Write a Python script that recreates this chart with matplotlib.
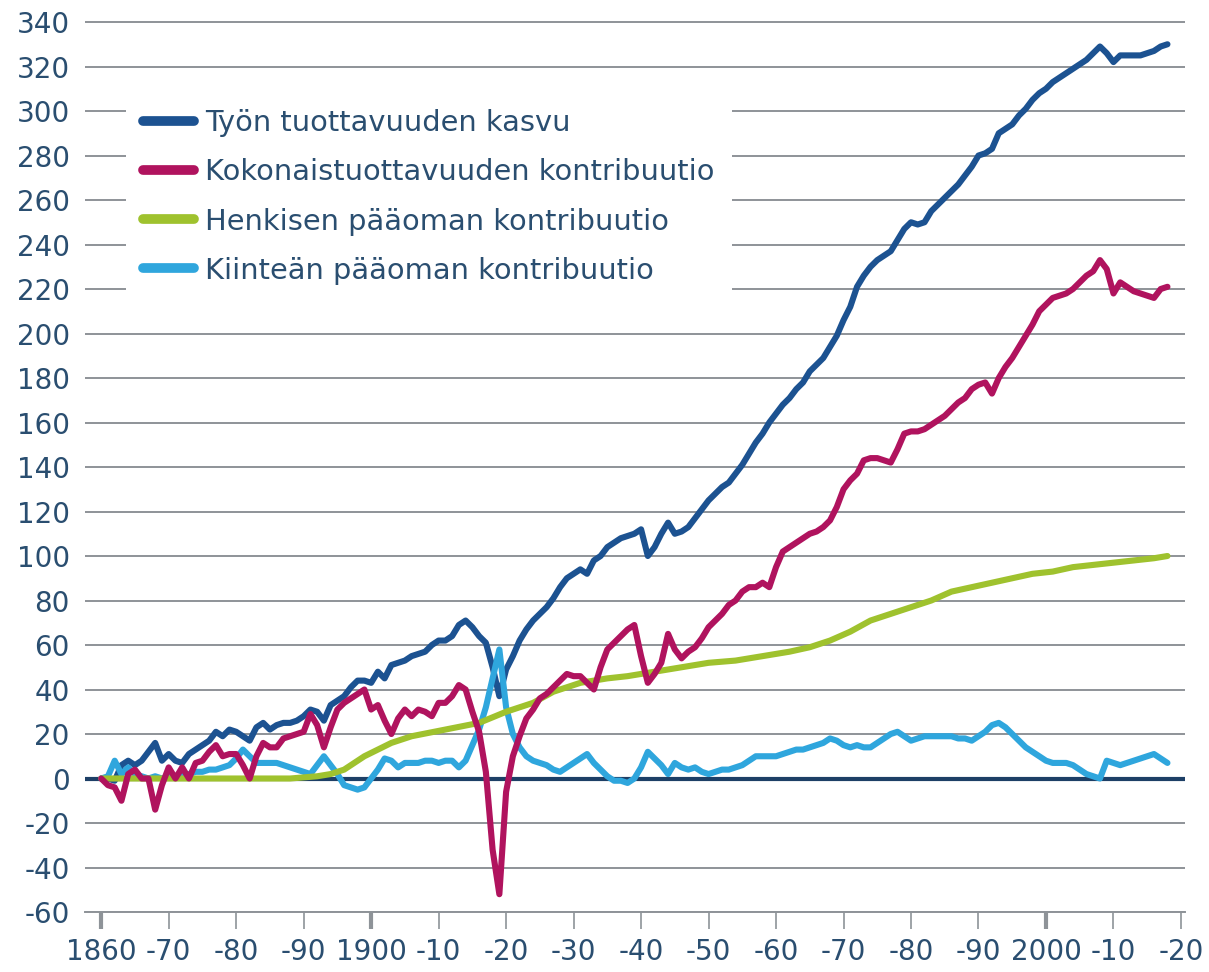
import matplotlib
matplotlib.use("Agg")
import matplotlib.pyplot as plt

plt.rcParams["axes.unicode_minus"] = False

# series (index, 1860 = 0)
tyo_years = list(range(1860, 2019))
tyo = [0, 0, -1, 6, 8, 6, 8, 12, 16, 8,
       11, 8, 7, 11, 13, 15, 17, 21, 19, 22,
       21, 19, 17, 23, 25, 22, 24, 25, 25, 26,
       28, 31, 30, 26, 33, 35, 37, 41, 44, 44,
       43, 48, 45, 51, 52, 53, 55, 56, 57, 60,
       62, 62, 64, 69, 71, 68, 64, 61, 50, 37,
       49, 55, 62, 67, 71, 74, 77, 81, 86, 90,
       92, 94, 92, 98, 100, 104, 106, 108, 109, 110,
       112, 100, 104, 110, 115, 110, 111, 113, 117, 121,
       125, 128, 131, 133, 137, 141, 146, 151, 155, 160,
       164, 168, 171, 175, 178, 183, 186, 189, 194, 199,
       206, 212, 221, 226, 230, 233, 235, 237, 242, 247,
       250, 249, 250, 255, 258, 261, 264, 267, 271, 275,
       280, 281, 283, 290, 292, 294, 298, 301, 305, 308,
       310, 313, 315, 317, 319, 321, 323, 326, 329, 326,
       322, 325, 325, 325, 325, 326, 327, 329, 330]

koko_years = list(range(1860, 2019))
koko = [0, -3, -4, -10, 2, 4, 0, 0, -14, -3,
        5, 0, 5, 0, 7, 8, 12, 15, 10, 11,
        11, 6, 0, 10, 16, 14, 14, 18, 19, 20,
        21, 29, 24, 14, 23, 31, 34, 36, 38, 40,
        31, 33, 26, 20, 27, 31, 28, 31, 30, 28,
        34, 34, 37, 42, 40, 30, 21, 3, -32, -52,
        -6, 10, 19, 27, 31, 36, 38, 41, 44, 47,
        46, 46, 43, 40, 50, 58, 61, 64, 67, 69,
        55, 43, 47, 52, 65, 58, 54, 57, 59, 63,
        68, 71, 74, 78, 80, 84, 86, 86, 88, 86,
        95, 102, 104, 106, 108, 110, 111, 113, 116, 122,
        130, 134, 137, 143, 144, 144, 143, 142, 148, 155,
        156, 156, 157, 159, 161, 163, 166, 169, 171, 175,
        177, 178, 173, 180, 185, 189, 194, 199, 204, 210,
        213, 216, 217, 218, 220, 223, 226, 228, 233, 229,
        218, 223, 221, 219, 218, 217, 216, 220, 221]

henk_years = [1860, 1870, 1880, 1888, 1892, 1894, 1896, 1898, 1899, 1901,
              1903, 1906, 1911, 1916, 1920, 1924, 1927, 1931, 1935, 1938,
              1942, 1946, 1950, 1954, 1958, 1962, 1965, 1968, 1971, 1974,
              1977, 1980, 1983, 1986, 1989, 1992, 1995, 1998, 2001, 2004,
              2007, 2010, 2013, 2016, 2018]
henk = [0, 0, 0, 0, 1, 2, 4, 8, 10, 13,
        16, 19, 22, 25, 30, 34, 39, 43, 45, 46,
        48, 50, 52, 53, 55, 57, 59, 62, 66, 71,
        74, 77, 80, 84, 86, 88, 90, 92, 93, 95,
        96, 97, 98, 99, 100]

kiin_years = list(range(1860, 2019))
kiin = [0, 1, 8, 2, 5, 2, 1, 0, 1, 0,
        1, 1, 2, 2, 3, 3, 4, 4, 5, 6,
        9, 13, 10, 7, 7, 7, 7, 6, 5, 4,
        3, 2, 6, 10, 6, 2, -3, -4, -5, -4,
        0, 4, 9, 8, 5, 7, 7, 7, 8, 8,
        7, 8, 8, 5, 8, 15, 22, 32, 45, 58,
        32, 20, 14, 10, 8, 7, 6, 4, 3, 5,
        7, 9, 11, 7, 4, 1, -1, -1, -2, 0,
        5, 12, 9, 6, 2, 7, 5, 4, 5, 3,
        2, 3, 4, 4, 5, 6, 8, 10, 10, 10,
        10, 11, 12, 13, 13, 14, 15, 16, 18, 17,
        15, 14, 15, 14, 14, 16, 18, 20, 21, 19,
        17, 18, 19, 19, 19, 19, 19, 18, 18, 17,
        19, 21, 24, 25, 23, 20, 17, 14, 12, 10,
        8, 7, 7, 7, 6, 4, 2, 1, 0, 8,
        7, 6, 7, 8, 9, 10, 11, 9, 7]

labels = ["Työn tuottavuuden kasvu",
          "Kokonaistuottavuuden kontribuutio",
          "Henkisen pääoman kontribuutio",
          "Kiinteän pääoman kontribuutio"]
colors = ["#1c5291", "#b0135e", "#9fc22e", "#2fa6dd"]

decades = list(range(1860, 2021, 10))
decade_labels = ["1860", "-70", "-80", "-90", "1900", "-10", "-20", "-30", "-40",
                 "-50", "-60", "-70", "-80", "-90", "2000", "-10", "-20"]

txt = "#2a4e70"
grid = "#8e9398"

fig = plt.figure(figsize=(12.09, 9.72), dpi=100)
ax = fig.add_axes([85 / 1209, 60 / 972, 1100 / 1209, 892.2 / 972])

series = [(tyo_years, tyo), (koko_years, koko), (henk_years, henk), (kiin_years, kiin)]
zorders = [3, 6, 5, 4]
for (xs, ys), lab, c, z in zip(series, labels, colors, zorders):
    ax.plot(xs, ys, color=c, lw=4.4, label=lab, zorder=z,
            solid_joinstyle="round", solid_capstyle="round")

ax.axhline(0, color="#1d3f66", lw=3, zorder=2)

ax.set_xlim(1857.6, 2020.6)
ax.set_ylim(-60, 341)
ax.set_yticks(range(-60, 341, 20))
ax.yaxis.grid(True, color=grid, lw=1.4, zorder=1)
ax.set_axisbelow(True)

ax.set_xticks(decades)
ax.set_xticklabels(decade_labels)

for s in ["left", "right", "top"]:
    ax.spines[s].set_visible(False)
ax.spines["bottom"].set_color(grid)
ax.spines["bottom"].set_linewidth(1.4)

ax.tick_params(axis="y", length=0, pad=11, labelsize=20, labelcolor=txt)
ax.tick_params(axis="x", direction="out", length=12, width=1.2, color=grid,
               pad=7, labelsize=20, labelcolor=txt)
for t, yr in zip(ax.xaxis.get_major_ticks(), decades):
    if yr in (1860, 1900, 2000):
        t.tick1line.set_color("#1d4a7a")
        t.tick1line.set_markeredgewidth(3)

leg = ax.legend(loc="upper left", bbox_to_anchor=(126 / 1209, 1 - 92 / 972),
                bbox_transform=fig.transFigure, fontsize=20.8, frameon=True,
                facecolor="white", edgecolor="none", framealpha=1, fancybox=False,
                handlelength=1.75, handletextpad=0.4, labelspacing=0.73,
                borderpad=0.6, borderaxespad=0)
for h in leg.get_lines():
    h.set_linewidth(7)
    h.set_solid_capstyle("round")
for t in leg.get_texts():
    t.set_color(txt)
leg.set_zorder(10)

fig.savefig("out.png", dpi=100)
